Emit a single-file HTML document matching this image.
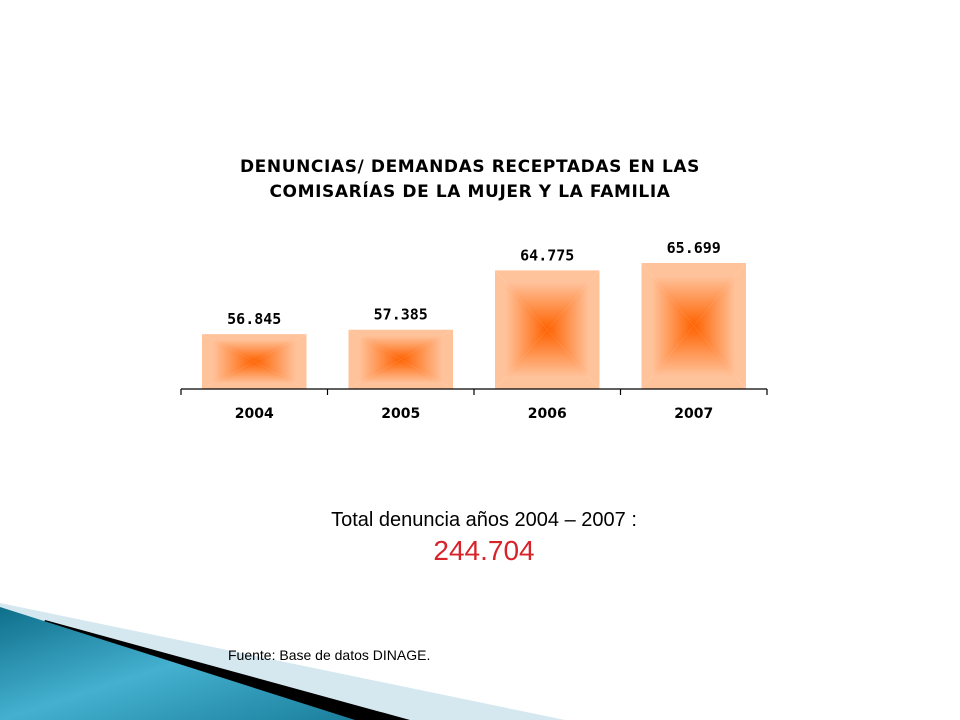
<!DOCTYPE html>
<html><head><meta charset="utf-8"><style>
body{margin:0;background:#fff;width:960px;height:720px;overflow:hidden;position:relative;font-family:"Liberation Sans",sans-serif}
svg{position:absolute;left:0;top:0}
</style></head><body>
<svg id="c" width="960" height="720">
<defs>
<linearGradient id="tl" x1="0" y1="0" x2="0" y2="1"><stop offset="0" stop-color="#ffc8a4"/><stop offset="1" stop-color="#ff6a10"/></linearGradient>
<linearGradient id="teal" x1="0" y1="0" x2="1" y2="1"><stop offset="0" stop-color="#0e6f8a"/><stop offset="0.5" stop-color="#45b0d0"/><stop offset="1" stop-color="#1a7f9c"/></linearGradient>
</defs>
<polygon points="0,603 565,720 0,720" fill="#d5e8f0"/>
<polygon points="45,620 410,720 0,720" fill="#000"/>
<polygon points="0,607 355,720 0,720" fill="url(#teal)"/>
<text x="470" y="172" text-anchor="middle" font-family="DejaVu Sans, sans-serif" font-weight="bold" font-size="17" letter-spacing="0.6">DENUNCIAS/ DEMANDAS RECEPTADAS EN LAS</text>
<text x="470" y="197" text-anchor="middle" font-family="DejaVu Sans, sans-serif" font-weight="bold" font-size="17" letter-spacing="0.6">COMISARÍAS DE LA MUJER Y LA FAMILIA</text>
<g id="plot"></g>
<text x="484" y="526" text-anchor="middle" font-size="20">Total denuncia años 2004 – 2007 :</text>
<text x="484" y="560" text-anchor="middle" font-size="28" fill="#d8232a">244.704</text>
<text x="228" y="660" font-size="14">Fuente: Base de datos DINAGE.</text>
</svg>
<script>
const categories=["2004","2005","2006","2007"];
const values=[56845,57385,64775,65699];
const labels=["56.845","57.385","64.775","65.699"];
const yMin=50000,yMax=70000;
const x0=181,x1=767,base=389,plotH=160.5;
const band=(x1-x0)/categories.length;
const y=v=>base-(v-yMin)/(yMax-yMin)*plotH;
const ns="http://www.w3.org/2000/svg";
const g=document.getElementById("plot");
function mk(t,a){const e=document.createElementNS(ns,t);for(const k in a)e.setAttribute(k,a[k]);g.appendChild(e);return e;}
categories.forEach((c,i)=>{
 const bx=x0+i*band+21,bw=band-42,top=y(values[i]),bh=base-top;
 const cx=bx+bw/2,cy=top+bh/2;
 const grp=document.createElementNS(ns,"g");
 
 
 g.appendChild(grp);
 const tris=[[[bx,top],[bx+bw,top],[cx,cy],[0,0,0,1]],[[bx,base],[bx+bw,base],[cx,cy],[0,1,0,0]],[[bx,top],[bx,base],[cx,cy],[0,0,1,0]],[[bx+bw,top],[bx+bw,base],[cx,cy],[1,0,0,0]]];
 tris.forEach((t,j)=>{
  const id="g"+i+"_"+j;
  const lg=document.createElementNS(ns,"linearGradient");
  lg.setAttribute("id",id);lg.setAttribute("gradientUnits","userSpaceOnUse");
  let ex,ey;if(j==0){ex=cx;ey=top}else if(j==1){ex=cx;ey=base}else if(j==2){ex=bx;ey=cy}else{ex=bx+bw;ey=cy}
  lg.setAttribute("x1",ex);lg.setAttribute("y1",ey);lg.setAttribute("x2",cx);lg.setAttribute("y2",cy);
  lg.innerHTML='<stop offset="0.2" stop-color="#ffc39c"/><stop offset="1" stop-color="#ff6200"/>';
  grp.appendChild(lg);
  const p=document.createElementNS(ns,"polygon");
  p.setAttribute("points",t.slice(0,3).map(q=>q.join(",")).join(" "));
  p.setAttribute("fill","url(#"+id+")");
  grp.appendChild(p);
 });
 const vl=mk("text",{x:cx,y:top-10,"text-anchor":"middle","font-family":"DejaVu Sans Mono, monospace","font-weight":"bold","font-size":"15"});
 vl.textContent=labels[i];
 
 
 const cl=mk("text",{x:cx,y:418,"text-anchor":"middle","font-family":"DejaVu Sans, sans-serif","font-weight":"bold","font-size":"14"});
 cl.textContent=c;
 
 
});
const ax=mk("line",{x1:x0,y1:base,x2:x1,y2:base,stroke:"#000","stroke-width":"1.2"});


for(let i=0;i<=categories.length;i++){
 const tx=x0+i*band;
 const tk=mk("line",{x1:tx,y1:base,x2:tx,y2:base+6,stroke:"#000","stroke-width":"1.2"});
 
 
}
</script>
</body></html>
